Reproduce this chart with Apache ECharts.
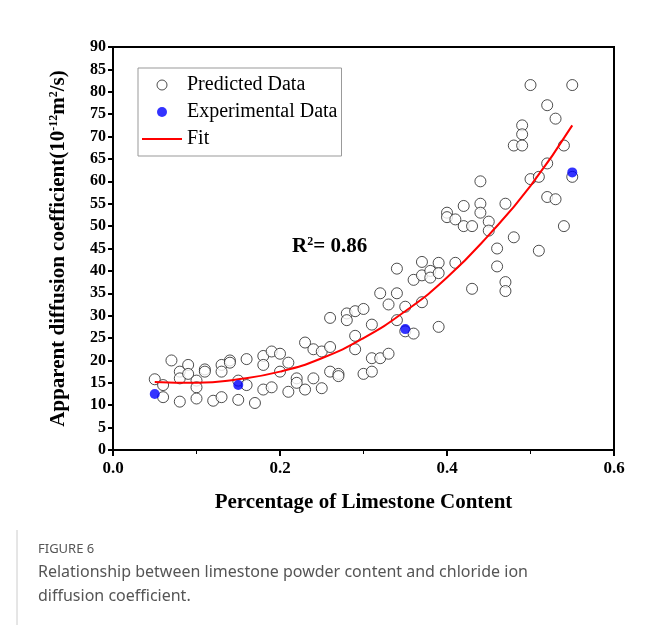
<!DOCTYPE html>
<html>
<head>
<meta charset="utf-8">
<script src="https://cdn.jsdelivr.net/npm/echarts@6/dist/echarts.min.js"></script>
<style>
  body { margin: 0; background: #fff; }
  #chart { width: 654px; height: 625px; }
</style>
</head>
<body>
<div id="chart"></div>
<script>
const predicted = [
  [0.05, 15.8], [0.06, 14.5], [0.06, 11.8], [0.07, 20], [0.08, 17.5], [0.08, 16], [0.08, 10.8],
  [0.09, 19], [0.09, 17], [0.10, 15.5], [0.10, 14], [0.10, 11.5], [0.11, 18], [0.11, 17.5],
  [0.12, 11], [0.13, 19], [0.13, 17.5], [0.13, 11.8], [0.14, 20], [0.14, 19.5], [0.15, 15.5],
  [0.15, 11.2], [0.16, 20.3], [0.16, 14.5], [0.17, 10.5], [0.18, 21], [0.18, 19], [0.18, 13.5],
  [0.19, 22], [0.19, 14], [0.20, 21.5], [0.20, 17.5], [0.21, 19.5], [0.21, 13], [0.22, 16],
  [0.22, 15], [0.23, 24], [0.23, 13.5], [0.24, 22.5], [0.24, 16], [0.25, 22], [0.25, 13.8],
  [0.26, 29.5], [0.26, 23], [0.26, 17.5], [0.27, 17], [0.27, 16.5], [0.28, 30.5], [0.28, 29],
  [0.29, 31], [0.29, 25.5], [0.29, 22.5], [0.30, 31.5], [0.30, 17], [0.31, 28], [0.31, 20.5],
  [0.31, 17.5], [0.32, 35], [0.32, 20.5], [0.33, 32.5], [0.33, 21.5], [0.34, 40.5], [0.34, 35],
  [0.34, 29], [0.35, 32], [0.35, 26.5], [0.36, 26], [0.36, 38], [0.37, 42], [0.37, 39], [0.37, 33],
  [0.38, 40], [0.38, 38.5], [0.39, 41.8], [0.39, 39.5], [0.39, 27.5], [0.40, 53], [0.40, 52],
  [0.41, 51.5], [0.41, 41.8], [0.42, 54.5], [0.42, 50], [0.43, 50], [0.43, 36], [0.44, 60],
  [0.44, 55], [0.44, 53], [0.45, 51], [0.45, 49], [0.46, 45], [0.46, 41], [0.47, 55], [0.47, 37.5],
  [0.47, 35.5], [0.48, 68], [0.48, 47.5], [0.49, 72.5], [0.49, 70.5], [0.49, 68], [0.50, 81.5],
  [0.50, 60.5], [0.51, 61], [0.51, 44.5], [0.52, 77], [0.52, 64], [0.52, 56.5], [0.53, 74],
  [0.53, 56], [0.54, 68], [0.54, 50], [0.55, 81.5], [0.55, 61]
];
const experimental = [[0.05, 12.5], [0.15, 14.5], [0.35, 27], [0.55, 62]];
const fit = [
  [0.05, 15.2], [0.10, 15.0], [0.15, 15.8], [0.20, 17.5], [0.25, 20.5], [0.30, 25],
  [0.35, 31], [0.40, 38.5], [0.45, 48], [0.50, 59], [0.55, 72.5]
];

const serif = "Liberation Serif";
const sup = { fontFamily: serif, fontWeight: "bold", fontSize: 12, verticalAlign: "top", padding: [0, 0, 9, 0] };
const chart = echarts.init(document.getElementById("chart"));
chart.setOption({
  animation: false,
  grid: { left: 113, right: 40, top: 47, bottom: 175, show: true, borderColor: "#000", borderWidth: 2 },
  legend: {
    left: 138, top: 68, orient: "vertical", itemGap: 7, itemWidth: 40, itemHeight: 10,
    padding: [7, 4, 7, 4], borderColor: "#999", borderWidth: 1,
    textStyle: { fontFamily: serif, fontSize: 20, color: "#000" },
    data: [
      { name: "Predicted Data", icon: "circle", itemStyle: { color: "#fff", borderColor: "#222", borderWidth: 1 } },
      { name: "Experimental Data", icon: "circle" },
      { name: "Fit", icon: "path://M0,0L40,0L40,2L0,2Z", itemStyle: { color: "#ff0000" } }
    ]
  },
  xAxis: {
    type: "value", min: 0, max: 0.6, interval: 0.2,
    axisLine: { lineStyle: { color: "#000", width: 2 } },
    axisTick: { length: 6, lineStyle: { width: 2 } },
    minorTick: { show: true, splitNumber: 2, length: 4, lineStyle: { color: "#000" } },
    splitLine: { show: false },
    axisLabel: { fontFamily: serif, fontWeight: "bold", fontSize: 17, color: "#000", margin: 10, formatter: v => v.toFixed(1) },
    name: "Percentage of Limestone Content", nameLocation: "middle", nameGap: 42,
    nameTextStyle: { fontFamily: serif, fontWeight: "bold", fontSize: 21, color: "#000" }
  },
  yAxis: {
    type: "value", min: 0, max: 90, interval: 5,
    axisLine: { lineStyle: { color: "#000", width: 2 } },
    axisTick: { length: 5, lineStyle: { width: 2 } },
    splitLine: { show: false },
    axisLabel: { fontFamily: serif, fontWeight: "bold", fontSize: 16, color: "#000", margin: 7 },
    name: "Apparent diffusion coefficient(10{s|-12}m{s|2}/s)", nameLocation: "middle", nameGap: 44,
    nameTextStyle: { fontFamily: serif, fontWeight: "bold", fontSize: 21, color: "#000", rich: { s: sup } }
  },
  series: [
    {
      name: "Predicted Data", type: "scatter", data: predicted, symbol: "circle", symbolSize: 11,
      itemStyle: { color: "#fff", borderColor: "#222", borderWidth: 1 }, z: 2
    },
    {
      name: "Experimental Data", type: "scatter", data: experimental, symbolSize: 10,
      itemStyle: { color: "#0000ff" }, z: 4
    },
    {
      name: "Fit", type: "line", data: fit, smooth: true, showSymbol: false, symbol: "none",
      lineStyle: { color: "#ff0000", width: 2 }, itemStyle: { color: "#ff0000" }, z: 3
    }
  ],
  graphic: [
    {
      type: "text", left: 292, top: 236,
      style: {
        text: "R{s|2}= 0.86", fontFamily: serif, fontWeight: "bold", fontSize: 21, fill: "#000",
        rich: { s: sup }
      }
    },
    { type: "line", shape: { x1: 17, y1: 530, x2: 17, y2: 625 }, style: { stroke: "#ccc", lineWidth: 1 } },
    { type: "text", left: 38, top: 543, style: { text: "FIGURE 6", fontFamily: "Noto Sans", fontSize: 13, fill: "#555" } },
    {
      type: "text", left: 38, top: 560,
      style: {
        text: "Relationship between limestone powder content and chloride ion\ndiffusion coefficient.",
        fontFamily: "Noto Sans", fontSize: 16, lineHeight: 24, fill: "#555"
      }
    }
  ]
});
</script>
</body>
</html>
